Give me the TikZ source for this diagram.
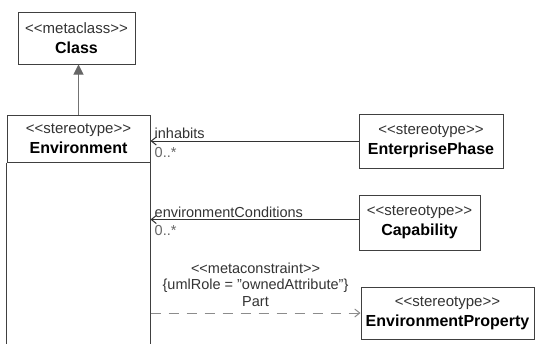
\documentclass[tikz,border=0pt]{standalone}
\usepackage{fontspec}
\setmainfont{Liberation Sans}
\usetikzlibrary{arrows.meta,positioning}

\newcommand{\umlst}[1]{<\kern0pt<#1>\kern0pt>}

\begin{document}
\begin{tikzpicture}[x=1pt,y=-1pt,>={Straight Barb[length=5pt,width=8pt]},
    every node/.append style={align=center,text=black!80},
    cls/.style={draw=black!75,line width=1pt,inner sep=0pt,font=\fontsize{15}{20}\selectfont},
    lbl/.style={inner sep=0pt,font=\fontsize{14.5}{16.5}\selectfont},
    gen/.style={draw=black!55,line width=1pt,-{Triangle[length=10pt,width=10pt,color=black!60,fill=black!60]}},
    assoc/.style={draw=black!80,line width=1pt,->},
    dep/.style={draw=black!45,line width=1pt,dash pattern=on 10pt off 8pt,->}]
    \useasboundingbox (0,0) rectangle (535,343);
    \clip (0,0) rectangle (535,343);

    % classes
    \node [cls, minimum width=117, minimum height=52] (class) at (76.5,38)
        {\umlst{metaclass}\\\textcolor{black}{\fontsize{16}{20}\selectfont\bfseries Class}};
    \node [cls, minimum width=143, minimum height=47] (envhead) at (78.5,138.5)
        {\umlst{stereotype}\\\textcolor{black}{\fontsize{16}{20}\selectfont\bfseries Environment}};
    \node [cls, draw=none, minimum width=143, minimum height=220, anchor=north] (env) at (envhead.south) {};
    \draw [draw=black!75, line width=1pt] (env.north west) -- (env.south west)
                                         (env.north east) -- (env.south east);
    \node [cls, minimum width=144, minimum height=54] (phase) at (431,141)
        {\umlst{stereotype}\\\textcolor{black}{\fontsize{16}{20}\selectfont\bfseries EnterprisePhase}};
    \node [cls, minimum width=121, minimum height=55] (cap) at (419.5,222.5)
        {\umlst{stereotype}\\\textcolor{black}{\fontsize{16}{20}\selectfont\bfseries Capability}};
    \node [cls, minimum width=173, minimum height=52] (prop) at (447.5,313)
        {\umlst{stereotype}\\\textcolor{black}{\fontsize{16}{20}\selectfont\bfseries EnvironmentProperty}};

    % generalization
    \draw [gen] (envhead.north) -- (envhead.north |- class.south);

    % associations
    \coordinate (inhEnd) at (phase.west -| env.east);
    \coordinate (condEnd) at ([yshift=3pt]cap.west -| env.east);
    \draw [assoc] (phase.west) -- (inhEnd);
    \draw [assoc] ([yshift=3pt]cap.west) -- (condEnd);
    \node [lbl, anchor=south west] (inhRole) at ([xshift=4pt,yshift=2pt]inhEnd) {inhabits};
    \node [lbl, anchor=north west, text=black!60] (inhMult) at ([xshift=4pt,yshift=-6pt]inhEnd) {0..*};
    \node [lbl, anchor=south west] (condRole) at ([xshift=4pt,yshift=2pt]condEnd) {environmentConditions};
    \node [lbl, anchor=north west, text=black!60] (condMult) at ([xshift=4pt,yshift=-6pt]condEnd) {0..*};

    % metaconstraint
    \coordinate (partEnd) at (prop.west -| env.east);
    \draw [dep] (partEnd) -- node [lbl, above=6pt] (part)
        {\umlst{metaconstraint}\\\{umlRole = "ownedAttribute"\}\\Part} (prop.west);
\end{tikzpicture}
\end{document}
